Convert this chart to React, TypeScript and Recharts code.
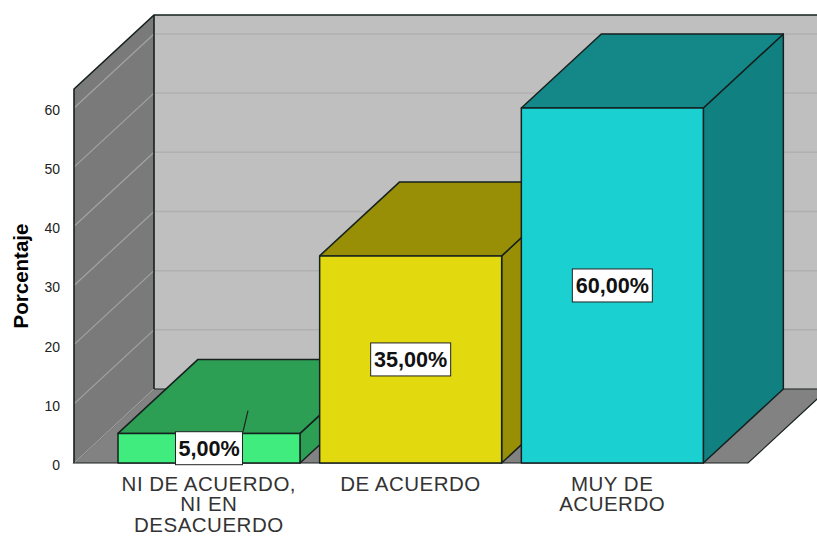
import { Bar, BarChart, LabelList, XAxis, YAxis, usePlotArea } from "recharts";

const categories = ["NI DE ACUERDO, NI EN DESACUERDO", "DE ACUERDO", "MUY DE ACUERDO"];
const percentages = [5, 35, 60];
const yTicks = [0, 10, 20, 30, 40, 50, 60];

// line breaks of the category labels, as in the original chart
const tickLines: Record<string, string[]> = {
  "NI DE ACUERDO, NI EN DESACUERDO": ["NI DE ACUERDO,", "NI EN", "DESACUERDO"],
  "DE ACUERDO": ["DE ACUERDO"],
  "MUY DE ACUERDO": ["MUY DE", "ACUERDO"],
};

const data = categories.map((category, i) => ({ category, value: percentages[i] }));

const frontColors = ["#40ec7e", "#e2da0e", "#1bd0d0"];
const topColors = ["#2c9f55", "#988f07", "#148888"];
const sideColors = ["#2c9f55", "#988f07", "#118080"];

const Y_MAX = 63.2;
const DEPTH_X = 80;
const DEPTH_Y = 74;
const EDGE = "#16211f";
const FONT = "'Liberation Sans', Arial, sans-serif";

// Back wall, side wall and floor of the 3D box
function Walls() {
  const plot = usePlotArea();
  if (!plot) return null;
  const { x, y, width, height } = plot;
  const bottom = y + height;
  const right = x + width;
  const tickY = (t: number) => bottom - (t / Y_MAX) * height;

  return (
    <g>
      <polygon
        points={`${x + DEPTH_X},${y - DEPTH_Y} 830,${y - DEPTH_Y} 830,${bottom - DEPTH_Y} ${x + DEPTH_X},${bottom - DEPTH_Y}`}
        fill="#bfbfbf"
      />
      <polygon
        points={`${x},${y} ${x + DEPTH_X},${y - DEPTH_Y} ${x + DEPTH_X},${bottom - DEPTH_Y} ${x},${bottom}`}
        fill="#7a7a7a"
      />
      {yTicks.map((t) => (
        <g key={t}>
          <line
            x1={x}
            y1={tickY(t)}
            x2={x + DEPTH_X}
            y2={tickY(t) - DEPTH_Y}
            stroke="#a3a3a3"
            strokeWidth={1.2}
          />
          {t > 0 && (
            <line
              x1={x + DEPTH_X}
              y1={tickY(t) - DEPTH_Y}
              x2={830}
              y2={tickY(t) - DEPTH_Y}
              stroke="#b0b0b0"
              strokeWidth={1.5}
            />
          )}
        </g>
      ))}
      <polygon
        points={`${x},${bottom} ${right},${bottom} ${right + DEPTH_X},${bottom - DEPTH_Y} ${x + DEPTH_X},${bottom - DEPTH_Y}`}
        fill="#828282"
        stroke={EDGE}
        strokeWidth={1.2}
      />
      <line x1={x} y1={bottom} x2={x + DEPTH_X} y2={bottom - DEPTH_Y} stroke="#a3a3a3" strokeWidth={1.2} />
      <polyline
        points={`${x},${bottom} ${x},${y} ${x + DEPTH_X},${y - DEPTH_Y} 830,${y - DEPTH_Y}`}
        fill="none"
        stroke={EDGE}
        strokeWidth={1.6}
      />
      <line
        x1={x + DEPTH_X}
        y1={y - DEPTH_Y}
        x2={x + DEPTH_X}
        y2={bottom - DEPTH_Y}
        stroke={EDGE}
        strokeWidth={1.6}
      />
    </g>
  );
}

function Cuboid(props: any) {
  const { x, y, width, height, index } = props;
  const r = x + width;
  const b = y + height;
  return (
    <g stroke={EDGE} strokeWidth={1.5} strokeLinejoin="round">
      <polygon
        points={`${r},${y} ${r + DEPTH_X},${y - DEPTH_Y} ${r + DEPTH_X},${b - DEPTH_Y} ${r},${b}`}
        fill={sideColors[index]}
      />
      <polygon
        points={`${x},${y} ${x + DEPTH_X},${y - DEPTH_Y} ${r + DEPTH_X},${y - DEPTH_Y} ${r},${y}`}
        fill={topColors[index]}
      />
      <rect x={x} y={y} width={width} height={height} fill={frontColors[index]} />
    </g>
  );
}

function ValueLabel(props: any) {
  const { x, y, width, height, value } = props;
  const cx = x + width / 2;
  const cy = y + height / 2;
  const boxW = value >= 10 ? 80 : 67;
  const boxH = 33;
  return (
    <g>
      {/* the smallest bar gets a leader line to its top face */}
      {height < boxH && (
        <line x1={cx + 34} y1={cy - boxH / 2} x2={cx + 39} y2={cy - boxH / 2 - 21} stroke="#222" strokeWidth={1.2} />
      )}
      <rect x={cx - boxW / 2} y={cy - boxH / 2} width={boxW} height={boxH} fill="#fff" stroke="#222" strokeWidth={1} />
      <text
        x={cx}
        y={cy + 8}
        textAnchor="middle"
        fontFamily={FONT}
        fontWeight="bold"
        fontSize={21.6}
        fill="#111"
      >
        {value.toFixed(2).replace(".", ",")}%
      </text>
    </g>
  );
}

function CategoryTick(props: any) {
  const { x, payload } = props;
  const lines = tickLines[payload.value] ?? [payload.value];
  return (
    <text textAnchor="middle" fontFamily={FONT} fontSize={20.5} letterSpacing={0.5} fill="#333">
      {lines.map((line, i) => (
        <tspan key={line} x={x} y={490.5 + i * 20.5}>
          {line}
        </tspan>
      ))}
    </text>
  );
}

export default function App() {
  return (
    <div style={{ position: "absolute", left: 0, top: 0, width: 817, height: 536, overflow: "hidden", background: "#fff" }}>
      <BarChart
        width={817}
        height={536}
        data={data}
        margin={{ top: 89, right: 69, bottom: 0, left: 0 }}
        style={{ overflow: "visible" }}
      >
        <Walls />
        <XAxis
          dataKey="category"
          height={73}
          axisLine={false}
          tickLine={false}
          interval={0}
          padding={{ left: 34, right: 35 }}
          tick={<CategoryTick />}
        />
        <YAxis
          width={74}
          domain={[0, Y_MAX]}
          ticks={yTicks}
          axisLine={false}
          tickLine={false}
          tickMargin={8}
          tick={{ fill: "#222", fontSize: 14, fontFamily: FONT, dy: 2 }}
          label={{
            value: "Porcentaje",
            angle: -90,
            position: "insideLeft",
            offset: 0,
            dx: 21,
            style: { fontFamily: FONT, fontWeight: "bold", fontSize: 20.5, fill: "#000", textAnchor: "middle" },
          }}
        />
        <Bar dataKey="value" barSize={182} shape={<Cuboid />} isAnimationActive={false}>
          <LabelList dataKey="value" content={<ValueLabel />} />
        </Bar>
      </BarChart>
    </div>
  );
}
